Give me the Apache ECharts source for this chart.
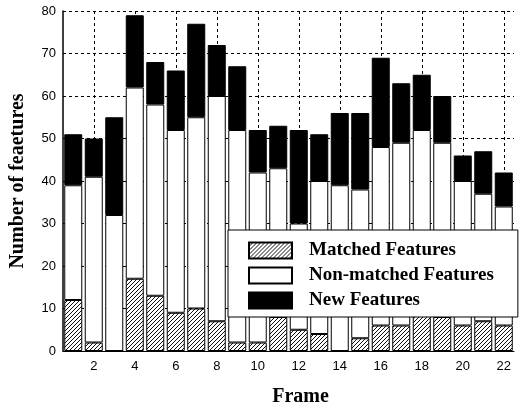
<!DOCTYPE html>
<html>
<head>
<meta charset="utf-8">
<script src="https://cdn.jsdelivr.net/npm/echarts@6/dist/echarts.min.js"></script>
<style>
  html, body { margin: 0; padding: 0; background: #fff; }
  #chart { width: 521px; height: 412px; }
</style>
</head>
<body>
<div id="chart"></div>
<script>
// frame numbers
var frames = ["1", "2", "3", "4", "5", "6", "7", "8", "9", "10", "11",
  "12", "13", "14", "15", "16", "17", "18", "19", "20", "21", "22"];
// stacked segments, bottom to top
var matched = [12, 2, 0, 17, 13, 9, 10, 7, 2, 2, 8, 5, 4, 0, 3, 6, 6, 9, 8, 6, 7, 6];
var nonMatched = [27, 39, 32, 45, 45, 43, 45, 53, 50, 40, 35, 25, 36, 39, 35, 42, 43, 43, 41, 34, 30, 28];
var newFeatures = [12, 9, 23, 17, 10, 14, 22, 12, 15, 10, 10, 22, 11, 17, 18, 21, 14, 13, 11, 6, 10, 8];
var yTicks = [0, 10, 20, 30, 40, 50, 60, 70, 80];

// diagonal hatch for matched features
function hatch() {
  var c = document.createElement("canvas");
  c.width = 4;
  c.height = 4;
  var ctx = c.getContext("2d");
  ctx.fillStyle = "#fff";
  ctx.fillRect(0, 0, 4, 4);
  ctx.strokeStyle = "#111";
  ctx.lineWidth = 1;
  ctx.beginPath();
  ctx.moveTo(0, 4);
  ctx.lineTo(4, 0);
  ctx.moveTo(-1, 1);
  ctx.lineTo(1, -1);
  ctx.moveTo(3, 5);
  ctx.lineTo(5, 3);
  ctx.stroke();
  return { image: c, repeat: "repeat" };
}

var serifBold = { fontFamily: "Liberation Serif, Times New Roman, serif", fontWeight: "bold", color: "#000" };
var dashed = { color: "#000", type: [3, 3], width: 1 };

function barSeries(name, data, color) {
  return {
    name: name,
    type: "bar",
    stack: "all",
    barWidth: 18,
    data: data,
    itemStyle: { color: color, borderColor: "#000", borderWidth: 1 },
  };
}

var chart = echarts.init(document.getElementById("chart"));
chart.setOption({
  animation: false,
  backgroundColor: "#fff",
  grid: { left: 63, right: 7, top: 11, bottom: 46 },
  legend: {
    orient: "vertical",
    left: 228,
    top: 230,
    icon: "rect",
    itemWidth: 43,
    itemHeight: 16,
    itemGap: 6,
    padding: [11, 24, 7, 20],
    backgroundColor: "#fff",
    borderColor: "#000",
    borderWidth: 1,
    textStyle: Object.assign({ fontSize: 19, padding: [0, 0, 0, 12] }, serifBold),
    data: ["Matched Features", "Non-matched Features", "New Features"],
  },
  xAxis: {
    type: "category",
    data: frames,
    name: "Frame",
    nameLocation: "middle",
    nameGap: 36,
    nameTextStyle: Object.assign({ fontSize: 20, padding: [0, 0, 0, 24] }, serifBold),
    axisLine: { lineStyle: { color: "#000", width: 1 } },
    axisTick: { show: false },
    axisLabel: {
      interval: function (i) { return i % 2 === 1; },
      color: "#000",
      fontSize: 13,
      fontFamily: "Liberation Sans, Arial, sans-serif",
      margin: 9,
    },
    splitLine: {
      show: true,
      alignWithLabel: true,
      interval: function (i) { return i % 2 === 1; },
      lineStyle: dashed,
    },
  },
  yAxis: {
    type: "value",
    min: yTicks[0],
    max: yTicks[yTicks.length - 1],
    interval: 10,
    name: "Number of feaetures",
    nameLocation: "middle",
    nameGap: 35,
    nameTextStyle: Object.assign({ fontSize: 20 }, serifBold),
    axisLine: { show: true, lineStyle: { color: "#000", width: 1.5 } },
    axisTick: { show: false },
    axisLabel: {
      color: "#000",
      fontSize: 13,
      fontFamily: "Liberation Sans, Arial, sans-serif",
      margin: 7,
    },
    splitLine: { show: true, lineStyle: dashed },
  },
  series: [
    barSeries("Matched Features", matched, hatch()),
    barSeries("Non-matched Features", nonMatched, "#fff"),
    barSeries("New Features", newFeatures, "#000"),
  ],
});
</script>
</body>
</html>
